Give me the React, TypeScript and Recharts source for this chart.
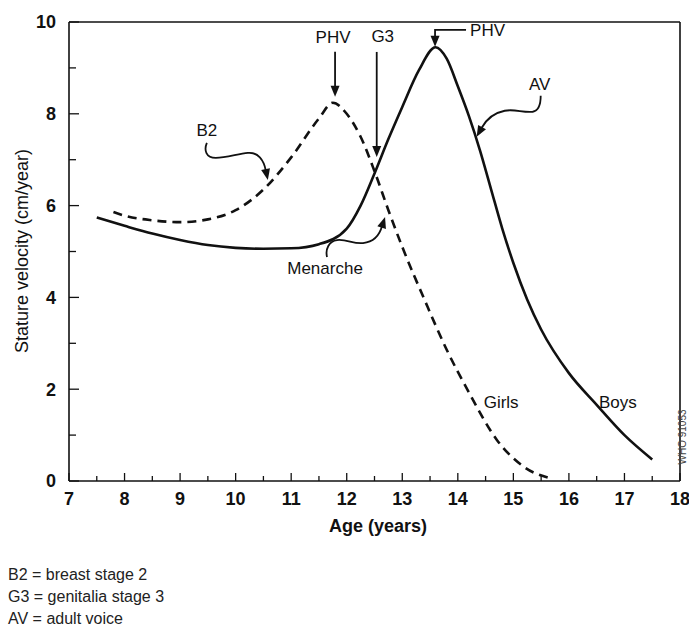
import { LineChart, Line, XAxis, YAxis, ReferenceLine, ReferenceDot } from 'recharts'

// growth velocity curves
const boysAge = [7.5, 8, 8.5, 9, 9.5, 10, 10.5, 11, 11.5, 12, 12.25, 12.5, 12.75, 13, 13.3, 13.6, 13.8, 14, 14.2, 14.4, 14.6, 14.8, 15, 15.25, 15.5, 16, 16.5, 17, 17.5]
const boysVel = [5.74, 5.56, 5.39, 5.25, 5.14, 5.08, 5.06, 5.07, 5.16, 5.5, 6.0, 6.7, 7.45, 8.15, 8.95, 9.45, 9.2, 8.6, 7.95, 7.2, 6.35, 5.5, 4.75, 3.95, 3.3, 2.35, 1.66, 1.0, 0.47]
const girlsAge = [7.8, 8, 8.5, 9, 9.5, 10, 10.5, 11, 11.5, 11.75, 12, 12.25, 12.5, 12.75, 13, 13.4, 13.8, 14.2, 14.7, 15.2, 15.7]
const girlsVel = [5.86, 5.78, 5.68, 5.64, 5.7, 5.9, 6.35, 7.05, 7.9, 8.24, 8.0, 7.5, 6.75, 5.9, 5.1, 3.95, 2.86, 1.93, 0.9, 0.3, 0.05]

const xTicks = [7, 7.5, 8, 8.5, 9, 9.5, 10, 10.5, 11, 11.5, 12, 12.5, 13, 13.5, 14, 14.5, 15, 15.5, 16, 16.5, 17, 17.5, 18]
const yTicks = [0, 1, 2, 3, 4, 5, 6, 7, 8, 9, 10]

const footnotes = ['B2 = breast stage 2', 'G3 = genitalia stage 3', 'AV = adult voice']

const boys = boysAge.map((age, i) => ({ age, v: boysVel[i] }))
const girls = girlsAge.map((age, i) => ({ age, v: girlsVel[i] }))

const FONT = '"Liberation Sans", Arial, sans-serif'
const INK = '#111'

function head(angle: number) {
  // filled arrow head with its tip on (0,0)
  const a = (angle * Math.PI) / 180
  const L = 11, W = 4.5
  const bx = -Math.cos(a) * L, by = -Math.sin(a) * L
  const px = -Math.sin(a) * W, py = Math.cos(a) * W
  return <polygon points={`0,0 ${bx + px},${by + py} ${bx - px},${by - py}`} fill={INK} />
}

type Note = { x: number; y: number; path?: string; angle?: number; text: string; tx: number; ty: number; anchor?: string }

const notes: Note[] = [
  { x: 11.79, y: 8.37, path: 'M0,-45 L0,-8', angle: 90, text: 'PHV', tx: -2, ty: -60 },
  { x: 12.54, y: 7.06, path: 'M0,-105 L0,-8', angle: 90, text: 'G3', tx: 6, ty: -121 },
  { x: 13.59, y: 9.46, path: 'M31,-17 L0,-17 L0,-8', angle: 90, text: 'PHV', tx: 35, ty: -17, anchor: 'start' },
  { x: 14.34, y: 7.5, path: 'M64,-41 C64,-33 62,-26 56,-25 C46,-24 38,-28 28,-26 C18,-24 10,-18 5,-9', angle: 119, text: 'AV', tx: 63, ty: -53 },
  { x: 10.58, y: 6.56, path: 'M-61,-37 C-64,-30 -62,-22 -52,-22 C-42,-22 -30,-26 -20,-27 C-10,-28 -4,-20 -2,-9', angle: 78, text: 'B2', tx: -61, ty: -50 },
  { x: 12.69, y: 5.75, path: 'M-58,40 C-60,32 -56,24 -48,23 C-38,22 -32,27 -22,26 C-12,25 -6,20 -3,9', angle: -72, text: 'Menarche', tx: -60, ty: 51 },
  { x: 14.78, y: 1.72, text: 'Girls', tx: 0, ty: 0 },
  { x: 16.88, y: 1.72, text: 'Boys', tx: 0, ty: 0 },
]

function NoteShape({ cx, cy, note }: any) {
  return (
    <g transform={`translate(${cx},${cy})`}>
      {note.path && <path d={note.path} fill="none" stroke={INK} strokeWidth={1.8} />}
      {note.path && head(note.angle)}
      <text x={note.tx} y={note.ty} dy="0.35em" textAnchor={note.anchor ?? 'middle'}
        fontFamily={FONT} fontSize={17} fill={INK}>{note.text}</text>
    </g>
  )
}

function XTick({ x, y, payload }: any) {
  const major = Number.isInteger(payload.value)
  return (
    <g>
      <line x1={x} x2={x} y1={y} y2={y - (major ? 8 : 5)} stroke={INK} strokeWidth={1.3} />
      {major && (
        <text x={x} y={y + 24} textAnchor="middle" fontFamily={FONT} fontSize={18} fontWeight="bold" fill={INK}>
          {payload.value}
        </text>
      )}
    </g>
  )
}

function YTick({ x, y, payload }: any) {
  const major = payload.value % 2 === 0
  return (
    <g>
      <line x1={x} x2={x + (major ? 10 : 7)} y1={y} y2={y} stroke={INK} strokeWidth={1.3} />
      {major && (
        <text x={x - 13} y={y} dy="0.35em" textAnchor="end" fontFamily={FONT} fontSize={18} fontWeight="bold" fill={INK}>
          {payload.value}
        </text>
      )}
    </g>
  )
}

export default function App() {
  return (
    <div style={{ position: 'absolute', left: 0, top: 0, width: 689, height: 633, background: '#fff' }}>
      <LineChart width={689} height={633} margin={{ top: 22, right: 9, bottom: 122, left: 9 }}>
        <XAxis type="number" dataKey="age" domain={[7, 18]} ticks={xTicks} interval={0} height={30}
          tickSize={0} tickMargin={0} tick={<XTick />} stroke={INK} strokeWidth={1.6} allowDataOverflow />
        <YAxis type="number" domain={[0, 10]} ticks={yTicks} interval={0} width={60}
          tickSize={0} tickMargin={0} tick={<YTick />} stroke={INK} strokeWidth={1.6} allowDataOverflow />
        <ReferenceLine y={10} stroke={INK} strokeWidth={1.6} />
        <ReferenceLine x={18} stroke={INK} strokeWidth={1.6} />
        <Line data={girls} dataKey="v" type="monotone" stroke={INK} strokeWidth={2.6} strokeDasharray="9 6"
          dot={false} activeDot={false} isAnimationActive={false} />
        <Line data={boys} dataKey="v" type="monotone" stroke={INK} strokeWidth={2.6}
          dot={false} activeDot={false} isAnimationActive={false} />
        {notes.map((n, i) => (
          <ReferenceDot key={i} x={n.x} y={n.y} r={0} ifOverflow="visible"
            shape={(p: any) => <NoteShape cx={p.cx} cy={p.cy} note={n} />} />
        ))}
      </LineChart>
      <svg width={689} height={633} style={{ position: 'absolute', left: 0, top: 0, pointerEvents: 'none' }}>
        <text transform="translate(22,251) rotate(-90)" dy="0.35em" textAnchor="middle"
          fontFamily={FONT} fontSize={18} fill={INK}>Stature velocity (cm/year)</text>
        <text x={378} y={532} textAnchor="middle" fontFamily={FONT} fontSize={18} fontWeight="bold" fill={INK}>
          Age (years)
        </text>
        <text transform="translate(682,437) rotate(-90)" dy="0.35em" textAnchor="middle"
          fontFamily={FONT} fontSize={10} fill="#444">WHO 91053</text>
        {footnotes.map((t, i) => (
          <text key={t} x={8} y={580 + i * 22} fontFamily={FONT} fontSize={16} fill="#222">{t}</text>
        ))}
      </svg>
    </div>
  )
}
